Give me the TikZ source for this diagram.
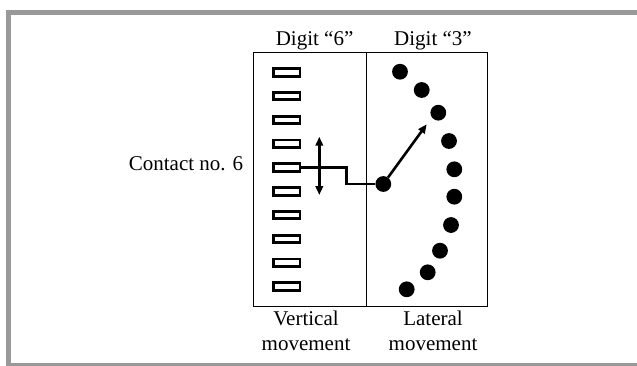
\documentclass[tikz,border=0pt]{standalone}
\usepackage{fontspec}
\setmainfont{Liberation Serif}
\usetikzlibrary{arrows.meta,positioning}
\definecolor{framegray}{RGB}{153,153,153}

\begin{document}
\begin{tikzpicture}[x=1pt, y=-1pt,
  font=\fontsize{21}{24.3}\selectfont,
  board/.style={draw, line width=1.1pt, minimum width=233.7pt, minimum height=254pt, inner sep=0pt},
  contact/.style={draw, line width=2.9pt, minimum width=26.5pt, minimum height=7.5pt, inner sep=0pt},
  pin/.style={circle, fill, inner sep=0pt, minimum size=15.8pt},
  lbl/.style={anchor=base, align=center, inner sep=0pt},
  link/.style={line width=2.7pt},
  arr/.style={-{Triangle[length=9pt, width=7.5pt]}, line width=2.6pt},
  dblarr/.style={{Triangle[length=9pt, width=7.5pt]}-{Triangle[length=9pt, width=7.5pt]}, line width=2.4pt}
]
\useasboundingbox (0,0) rectangle (637,365);
\draw[framegray, line width=5pt] (645,12.2) -- (8.5,12.2) -- (8.5,365) -- (645,365);

\node[board] (board) at (370.2,179.7) {};
\coordinate (split) at (366.7,0);
\draw[line width=0.9pt] (board.north -| split) -- (board.south -| split);

\node[lbl] (d6) at (314.6,45) {Digit “6”};
\node[lbl] (d3) at (433,45) {Digit “3”};
\node[lbl] (contactno) at (186,170) {Contact no. 6};
\node[lbl] (vert) at (306,350) {Vertical\\movement};
\node[lbl] (lat) at (433,350) {Lateral\\movement};

% contacts of digit 6
\foreach \i in {1,...,10}
  \node[contact] (c\i) at (286.7,{72.3+23.8*(\i-1)}) {};

% pins of digit 3
\foreach \x/\y [count=\i] in {400/71.7, 421.7/90, 438.3/112.7, 449/141, 454.3/169.3,
    454.3/196.7, 451/225, 440/250.7, 427.7/272.3, 406.7/289.3}
  \node[pin] (p\i) at (\x,\y) {};

\node[pin] (start) at (383.3,184) {};
\coordinate (bend) at (346.7,167.5);
\coordinate (tip) at (426.7,124.3);
\coordinate (up) at (319.3,136.7);
\coordinate (down) at (319.3,195);

\draw[link] (c5.east) -- (bend) |- (start);
\draw[arr] (start) -- (tip);
\draw[dblarr] (up) -- (down);
\end{tikzpicture}
\end{document}
